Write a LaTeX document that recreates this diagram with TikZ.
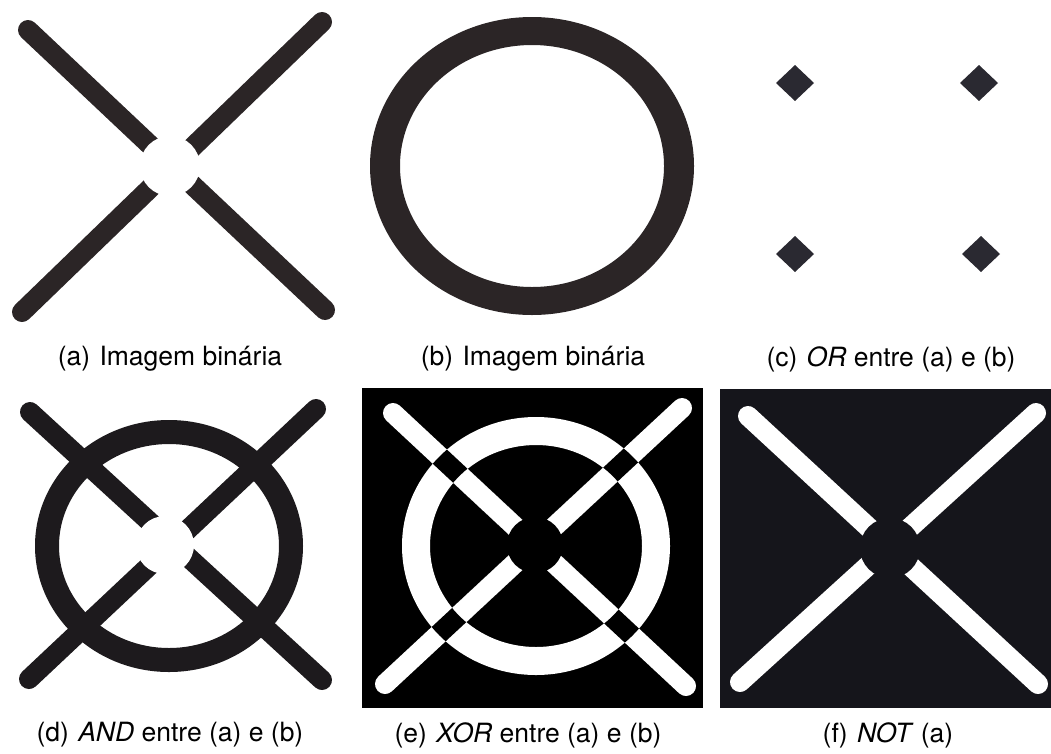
\documentclass[tikz,border=0pt]{standalone}
\usepackage{fontspec}
\setmainfont{TeX Gyre Heros}
\usepackage{tikz}
\definecolor{inka}{HTML}{2B2526}
\definecolor{inkc}{HTML}{2A2931}
\definecolor{inkd}{HTML}{1D1A1D}
\definecolor{bgf}{HTML}{15151B}
\newcommand{\lbl}[1]{#1\hspace{0.35em}}
\tikzset{arm/.style={line width=20pt, line cap=round},
  caplabel/.style={inner sep=0pt, font=\fontsize{26.5}{30}\selectfont}}

\begin{document}
\begin{tikzpicture}[x=1pt, y=-1pt]
            \useasboundingbox (0,0) rectangle (1051,753);
            \begin{scope}
                \draw[arm, inka] (28,30) -- (325,310); \draw[arm, inka] (322,22) -- (22,312);
                \fill[white] (170,166) circle [radius=30pt];
                \node[caplabel] (capa) at (170,359) {\lbl{(a)}Imagem binária};
            \end{scope}
            \begin{scope}
                \fill[inka, even odd rule] (532,166) ellipse [x radius=162pt, y radius=149pt] (532,166) ellipse [x radius=132pt, y radius=121pt];
                \node[caplabel] (capb) at (533,359) {\lbl{(b)}Imagem binária};
            \end{scope}
            \begin{scope}
                \foreach \p in {(795,83),(979,83),(795,254),(981,254)}
                    \fill[inkc] \p +(-19,0) -- +(0,-18) -- +(19,0) -- +(0,18) -- cycle;
                \node[caplabel] (capc) at (891,359) {\lbl{(c)}\textit{OR} entre (a) e (b)};
            \end{scope}

            \begin{scope}
                \fill[inkd, even odd rule] (169,546) ellipse [x radius=134pt, y radius=126pt] (169,546) ellipse [x radius=110pt, y radius=102pt];
                \draw[arm, inkd] (30,412) -- (322,680); \draw[arm, inkd] (316,409) -- (29,679);
                \fill[white] (165,545) circle [radius=29pt];
                \node[caplabel] (capd) at (170,735) {\lbl{(d)}\textit{AND} entre (a) e (b)};
            \end{scope}
            \begin{scope}
                \fill[black] (362,388) rectangle (703,708);
                \fill[white, even odd rule] (536,546) ellipse [x radius=134pt, y radius=129pt] (536,546) ellipse [x radius=106pt, y radius=101pt];
                \draw[arm, white] (393,413) -- (686,686); \draw[arm, white] (682,408) -- (385,684);
                \begin{scope}
                    \clip (536,546) ellipse [x radius=134pt, y radius=129pt];
                    \draw[arm, black] (393,413) -- (686,686); \draw[arm, black] (682,408) -- (385,684);
                    \clip (536,546) ellipse [x radius=106pt, y radius=101pt];
                    \draw[arm, white] (393,413) -- (686,686); \draw[arm, white] (682,408) -- (385,684);
                \end{scope}
                \fill[black] (535,545) circle [radius=28pt];
                \node[caplabel] (cape) at (528,735) {\lbl{(e)}\textit{XOR} entre (a) e (b)};
            \end{scope}
            \begin{scope}
                \fill[bgf] (720,389) rectangle (1051,708);
                \draw[arm, white] (748,416) -- (1038,684); \draw[arm, white] (1036,413) -- (740,682);
                \fill[bgf] (890,548) circle [radius=30pt];
                \node[caplabel] (capf) at (888,735) {\lbl{(f)}\textit{NOT} (a)};
            \end{scope}
        \end{tikzpicture}
\end{document}
